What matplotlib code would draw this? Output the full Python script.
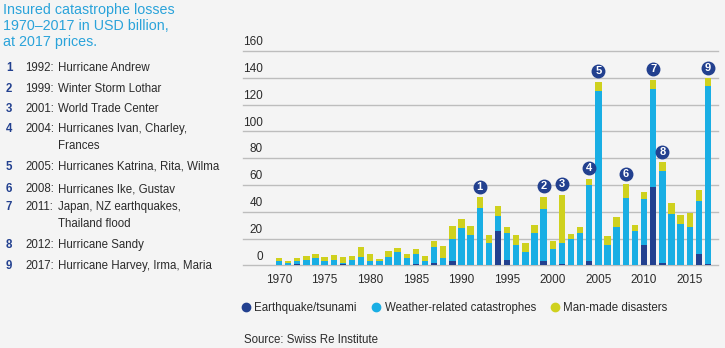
import numpy as np, matplotlib
matplotlib.use('Agg'); import matplotlib.pyplot as plt
from matplotlib.lines import Line2D

BG="#F4F4F4"; NAVY="#22408F"; CYAN="#19AEE4"; YEL="#CFD11E"; TXT="#2B2B2B"; TITLE="#2AA3DA"; GRID="#BDBDBD"
plt.rcParams.update({'font.family':['Liberation Sans','DejaVu Sans'],'font.size':8.3})

years = list(range(1970, 2018))
quake = [0,0,1,0,0,0,0,1,0,0, 0,0,0,0,0,1,0,2,0,3.5,
         0,0,0,0,25.5,4,0,0,0,3.5, 0,1,0,0,3.5,0,0,0,0,0,
         15.3,58.8,1.5,0,0,0,8.8,1]
weather_top = [3.5,1.5,3.5,4,5.3,3,4.3,1.8,3.8,6.5, 3,3,6.3,10,5.5,8.8,3.5,14,5.8,19.5,
               28,22.8,42.5,16.5,36.5,23.8,15.3,10,24.3,42.3, 12,16.5,19.3,24.3,60,130.3,15.5,28.8,50.5,25.3,
               49.8,131.5,70.5,38,30.5,28.8,47.8,133.8]
total = [5.8,3.3,5.3,7,8.5,6,7.8,6.3,7,14, 8.5,5,10.8,13,8.8,12.3,6.8,18.5,14.5,29.5,
         34.8,29.3,50.8,22.8,44.5,28.5,22.8,16.8,30.3,51, 18.5,52.5,23.5,28.5,64.8,137,22,35.8,60.5,29.8,
         55,138.5,76.8,46.3,37.8,38.8,56.3,139.5]
weather = [w - q for w, q in zip(weather_top, quake)]
manmade = [t - w for t, w in zip(total, weather_top)]

callout_years = [1992, 1999, 2001, 2004, 2005, 2008, 2011, 2012, 2017]
events = [("1992:", "Hurricane Andrew"), ("1999:", "Winter Storm Lothar"), ("2001:", "World Trade Center"),
          ("2004:", "Hurricanes Ivan, Charley,\nFrances"), ("2005:", "Hurricanes Katrina, Rita, Wilma"),
          ("2008:", "Hurricanes Ike, Gustav"), ("2011:", "Japan, NZ earthquakes,\nThailand flood"),
          ("2012:", "Hurricane Sandy"), ("2017:", "Hurricane Harvey, Irma, Maria")]
yticks = [0, 20, 40, 60, 80, 100, 120, 140, 160]
xticks = [1970, 1975, 1980, 1985, 1990, 1995, 2000, 2005, 2010, 2015]

W, H = 725, 348
fig = plt.figure(figsize=(W/100, H/100), dpi=100, facecolor=BG)
ax = fig.add_axes([243/W, 1-265.3/H, 475/W, (265.3-51)/H])
ax.set_facecolor(BG)
for v in yticks:
    ax.axhline(v, color=GRID, lw=1.0, zorder=1, clip_on=False)
    ax.text(0.042, v + 2.0, str(v), transform=ax.get_yaxis_transform(), ha='right', va='bottom',
            fontsize=8.5, color=TXT)

bw = 0.7
ax.bar(years, quake, bw, color=NAVY, zorder=2)
ax.bar(years, weather, bw, bottom=quake, color=CYAN, zorder=2)
ax.bar(years, manmade, bw, bottom=weather_top, color=YEL, zorder=2)

# numbered callouts above the big-event years
for i, yr in enumerate(callout_years):
    t = total[years.index(yr)]
    ax.plot(yr, t + 8, 'o', ms=9, color=NAVY, mec=NAVY, zorder=4, clip_on=False)
    ax.text(yr, t + 8, str(i + 1), ha='center', va='center', color='white', fontsize=8,
            fontweight='bold', zorder=5)

ax.set_xlim(1966.06, 2018.1); ax.set_ylim(0, 160)
ax.set_xticks(xticks); ax.set_yticks([])
ax.tick_params(axis='x', length=0, pad=6, labelsize=8.5, labelcolor=TXT)
for s in ax.spines.values(): s.set_visible(False)

fig.text(3/W, 1-26/H, "Insured catastrophe losses\n1970–2017 in USD billion,\nat 2017 prices.",
         color=TITLE, fontsize=10.3, va='center', ha='left', linespacing=1.2)

ys = [68, 89, 109, 129, 167, 189, 207, 245, 266]
for i, ((yr, txt), y) in enumerate(zip(events, ys)):
    fig.text(6/W, 1-y/H, str(i + 1), color=NAVY, fontweight='bold', fontsize=8.3, va='center')
    fig.text(25/W, 1-y/H, yr, color=TXT, fontsize=8.3, va='center')
    lines = txt.split("\n")
    fig.text(57.5/W, 1-y/H, lines[0], color=TXT, fontsize=8.3, va='center')
    if len(lines) > 1:
        fig.text(57.5/W, 1-(y+17)/H, lines[1], color=TXT, fontsize=8.3, va='center')

handles = [Line2D([], [], ls='', marker='o', ms=6, color=c) for c in (NAVY, CYAN, YEL)]
fig.legend(handles, ["Earthquake/tsunami", "Weather-related catastrophes", "Man-made disasters"],
           loc='center left', bbox_to_anchor=(229/W, 1-308/H), ncol=3, frameon=False,
           fontsize=8.3, handletextpad=0.1, columnspacing=1.1, handlelength=1.2, labelcolor=TXT)
fig.text(244/W, 1-340/H, "Source: Swiss Re Institute", color=TXT, fontsize=8.3, va='center')

fig.savefig("out.png", dpi=100, facecolor=BG)
